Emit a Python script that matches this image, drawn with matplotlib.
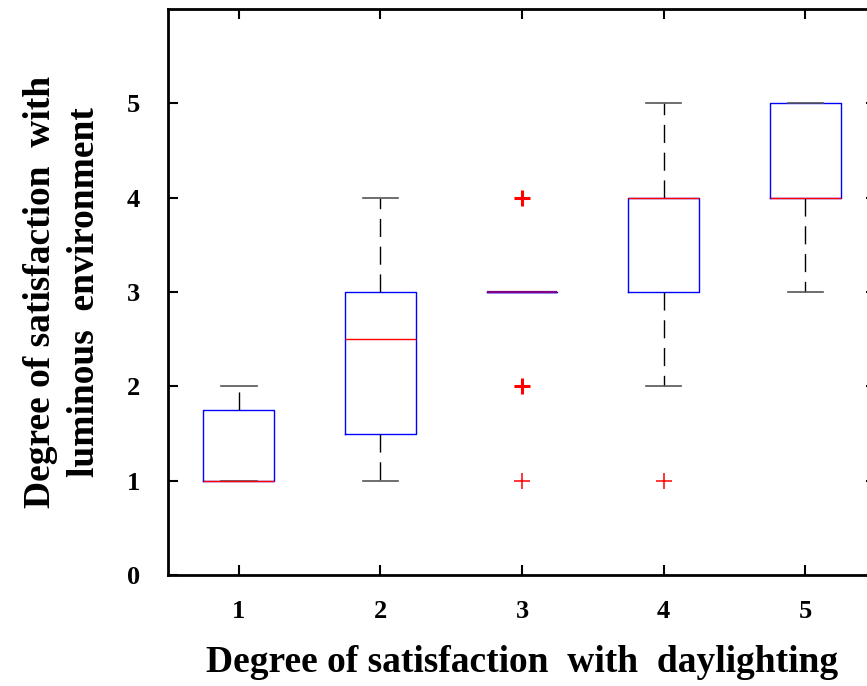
import matplotlib
matplotlib.use("Agg")
import matplotlib.pyplot as plt
from collections import Counter

# Daylighting satisfaction level (x) vs. luminous environment satisfaction (box stats)
categories = [1, 2, 3, 4, 5]
q1 = [1.0, 1.5, 3.0, 3.0, 4.0]
medians = [1.0, 2.5, 3.0, 4.0, 4.0]
q3 = [1.75, 3.0, 3.0, 4.0, 5.0]
whisker_low = [1.0, 1.0, 3.0, 2.0, 3.0]
whisker_high = [2.0, 4.0, 3.0, 5.0, 5.0]
outliers = [[], [], [1.0, 2.0, 2.0, 4.0, 4.0], [1.0], []]
y_ticks = [0, 1, 2, 3, 4, 5]

plt.rcParams['font.family'] = ['Liberation Serif', 'DejaVu Serif']
plt.rcParams['font.weight'] = 'bold'

fig = plt.figure(figsize=(8.67, 6.86), dpi=100)
ax = fig.add_axes([0.1938, 0.1618, 0.8166, 0.8251])

stats = []
for c, a, m, b, lo, hi in zip(categories, q1, medians, q3,
                              whisker_low, whisker_high):
    stats.append(dict(label=str(c), q1=a, med=m, q3=b,
                      whislo=lo, whishi=hi, fliers=[]))

parts = ax.bxp(stats, positions=categories, widths=0.5, capwidths=0.25,
               showfliers=False,
               boxprops=dict(color='#0000ff', linewidth=1.0),
               medianprops=dict(color='#ff0000', linewidth=1.0),
               whiskerprops=dict(color='black', linewidth=1.0,
                                 linestyle=(0, (13, 7))),
               capprops=dict(color='#555555', linewidth=1.2))

# a collapsed box (q1 == med == q3) shows as a blended red/blue line
for line, a, m, b in zip(parts['medians'], q1, medians, q3):
    if a == m == b:
        line.set_color('#800080')
        line.set_linewidth(1.6)

# outliers: repeated responses drawn with a heavier cross
for c, fl in zip(categories, outliers):
    for v, n in Counter(fl).items():
        ax.plot([c], [v], linestyle='none', marker='+', markersize=12,
                markeredgecolor='#ff0000', markeredgewidth=1.1 if n == 1 else 2.2)

ax.set_xlim(0.5, 5.5)
ax.set_ylim(0, 6)
ax.set_xticks(categories)
ax.set_xticklabels([str(c) for c in categories])
ax.set_yticks(y_ticks)
ax.set_yticklabels([str(t) for t in y_ticks])

ax.tick_params(direction='in', length=7, width=1.5, top=True, right=True,
               labelsize=19, pad=18)
ax.tick_params(axis='y', pad=20)
for s in ax.spines.values():
    s.set_linewidth(2)

ax.set_xlabel('Degree of satisfaction  with  daylighting', fontsize=27,
              fontweight='bold', labelpad=16)
ax.set_ylabel('Degree of satisfaction  with\nluminous  environment', fontsize=27,
              fontweight='bold', labelpad=18, linespacing=1.35)

fig.savefig('out.png', dpi=100)
